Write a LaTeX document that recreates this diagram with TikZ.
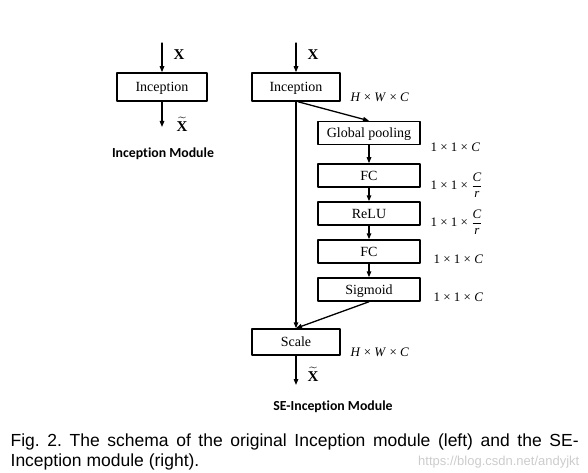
\documentclass[tikz,border=0pt]{standalone}
\usepackage{amsmath}
\usepackage{fontspec}
\setmainfont{Liberation Serif}
\setsansfont{Liberation Sans}
\newfontfamily\calibri[Ligatures=NoCommon]{Carlito}
\usetikzlibrary{arrows.meta}

\tikzset{
  blk/.style={draw, line width=1.5pt, inner sep=0pt, text depth=0pt, font=\fontsize{14}{16}\selectfont},
  dimlbl/.style={anchor=west, inner sep=0pt, font=\fontsize{13}{15}\selectfont},
  modlbl/.style={font=\calibri\bfseries\fontsize{13.8}{16}\selectfont},
}

\begin{document}
\frenchspacing
\begin{tikzpicture}[x=1pt, y=-1pt, line cap=round, line join=round, line width=1.3pt, >={Triangle[length=6pt,width=4.5pt]}]
  \useasboundingbox (0,0) rectangle (588,473);

  % Left: plain Inception module
  \node[blk, minimum width=90pt, minimum height=28pt] (incL) at (162,87) {Inception};
  \coordinate (inL) at (162,43);
  \coordinate (outL) at (162,127);
  \draw[->] (inL) -- (incL);
  \draw[->] (incL) -- (outL);
  \node[font=\fontsize{15}{17}\selectfont] (xL) at (179,55) {$\mathbf{X}$};
  \node[font=\fontsize{15}{17}\selectfont] (xtL) at (182,124) {$\widetilde{\mathbf{X}}$};
  \node[modlbl] (modL) at (163,154) {Inception Module};

  % Right: SE-Inception module
  \node[blk, minimum width=88pt, minimum height=28pt] (incR) at (296,87) {Inception};
  \node[blk, minimum width=102pt, minimum height=23pt] (gp) at (369,133) {Global pooling};
  \node[blk, minimum width=102pt, minimum height=23pt] (fc1) at (369,175.5) {FC};
  \node[blk, minimum width=102pt, minimum height=23pt] (relu) at (369,213.5) {ReLU};
  \node[blk, minimum width=102pt, minimum height=23pt] (fc2) at (369,251.5) {FC};
  \node[blk, minimum width=102pt, minimum height=23pt] (sig) at (369,289.5) {Sigmoid};
  \node[blk, minimum width=88pt, minimum height=26pt] (scale) at (296,342) {Scale};
  \coordinate (inR) at (296,43);
  \coordinate (outR) at (296,385);

  \draw[->] (inR) -- (incR);
  \draw[->] (incR.south) -- (scale.north);
  \draw[->] ([xshift=2pt]incR.south) -- (gp.north);
  \draw[->] (gp) -- (fc1);
  \draw[->] (fc1) -- (relu);
  \draw[->] (relu) -- (fc2);
  \draw[->] (fc2) -- (sig);
  \draw[->] (sig.south) -- (scale.north);
  \draw[->] (scale) -- (outR);

  \node[font=\fontsize{15}{17}\selectfont] (xR) at (313,55) {$\mathbf{X}$};
  \node[font=\fontsize{15}{17}\selectfont] (xtR) at (313,374) {$\widetilde{\mathbf{X}}$};

  % Feature sizes
  \node[dimlbl] (dInc) at (350,97) {\textit{H} × \textit{W} × \textit{C}};
  \node[dimlbl] (dGp) at (430,147) {1 × 1 × \textit{C}};
  \node[dimlbl] (dFc1) at (430,185) {1 × 1 × $\dfrac{\textit{C}}{\textit{r}}$};
  \node[dimlbl] (dRelu) at (430,222) {1 × 1 × $\dfrac{\textit{C}}{\textit{r}}$};
  \node[dimlbl] (dFc2) at (433,259) {1 × 1 × \textit{C}};
  \node[dimlbl] (dSig) at (433,297) {1 × 1 × \textit{C}};
  \node[dimlbl] (dScale) at (350,352) {\textit{H} × \textit{W} × \textit{C}};

  \node[modlbl] (modR) at (333,407) {SE-Inception Module};

  % Caption and watermark
  \node[anchor=north west, inner sep=0pt, text width=568pt, align=justify, font=\sffamily\fontsize{17.5}{20}\selectfont] (cap) at (10,433)
    {Fig. 2. The schema of the original Inception module (left) and the SE-\linebreak Inception module (right).};
  \node[anchor=east, inner sep=0pt, text=black!20, font=\sffamily\fontsize{13}{15}\selectfont] (wm) at (580,462) {https://blog.csdn.net/andyjkt};
\end{tikzpicture}
\end{document}
